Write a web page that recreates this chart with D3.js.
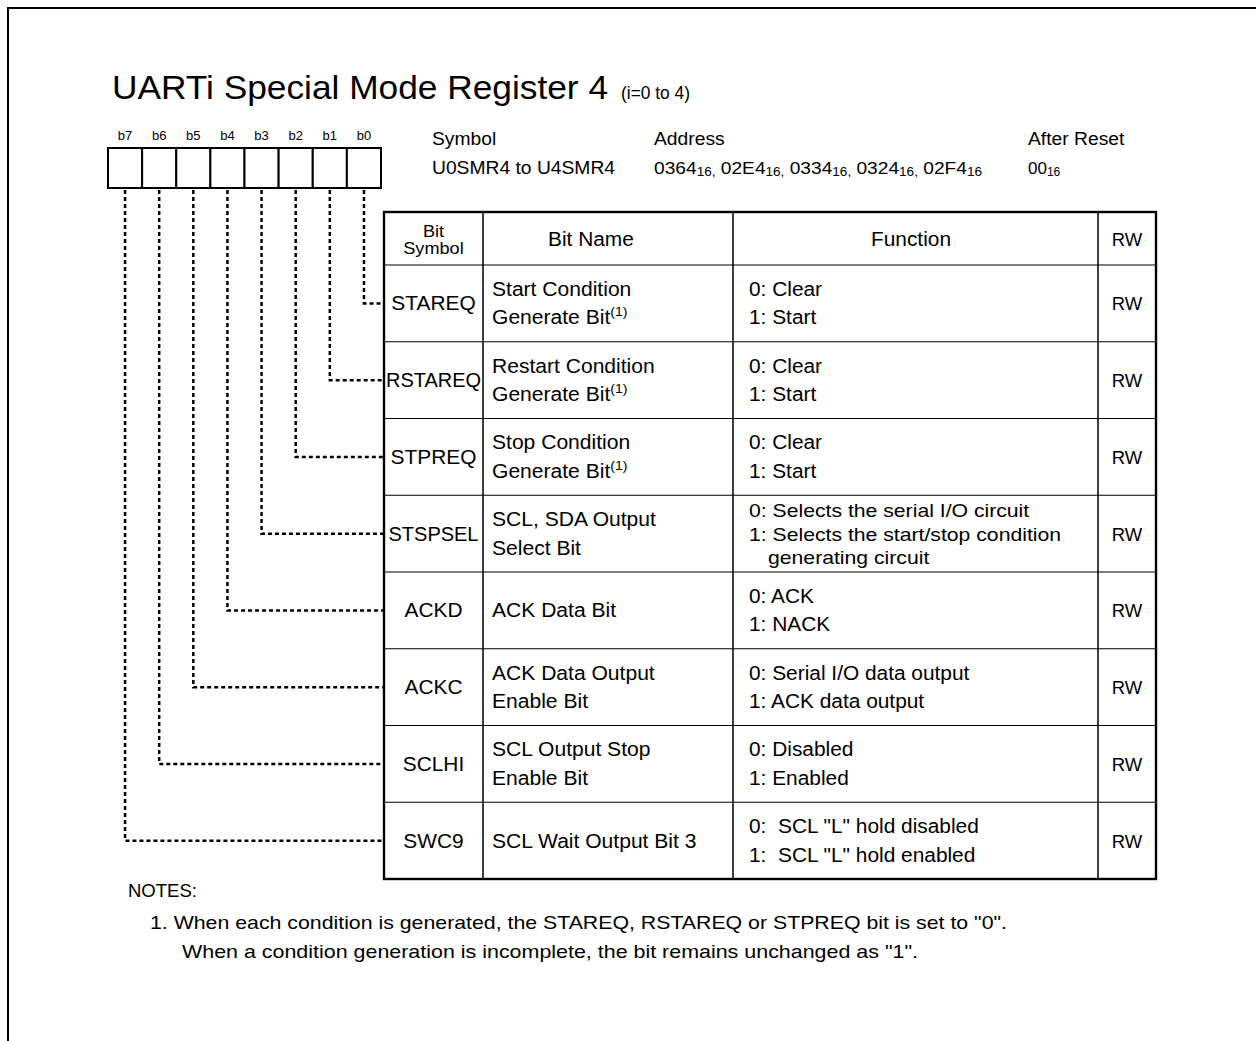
<!DOCTYPE html>
<html><head><meta charset="utf-8">
<script src="https://cdn.jsdelivr.net/npm/d3@7"></script>
<style>
html,body{margin:0;padding:0;background:#fff;}
svg{display:block;font-family:"Liberation Sans",Arial,Helvetica,sans-serif;}
</style></head>
<body><svg id="c" width="1256" height="1041"></svg>
<script>
const bitLabels = ["b7","b6","b5","b4","b3","b2","b1","b0"];
const bitSymbols = ["STAREQ","RSTAREQ","STPREQ","STSPSEL","ACKD","ACKC","SCLHI","SWC9"];
const bitOfRow = ["b0","b1","b2","b3","b4","b5","b6","b7"];
const bitNames = [
  ["Start Condition","Generate Bit|(1)"],
  ["Restart Condition","Generate Bit|(1)"],
  ["Stop Condition","Generate Bit|(1)"],
  ["SCL, SDA Output","Select Bit"],
  ["ACK Data Bit"],
  ["ACK Data Output","Enable Bit"],
  ["SCL Output Stop","Enable Bit"],
  ["SCL Wait Output Bit 3"]
];
const functions = [
  ["0: Clear","1: Start"],
  ["0: Clear","1: Start"],
  ["0: Clear","1: Start"],
  ["0: Selects the serial I/O circuit","1: Selects the start/stop condition","generating circuit"],
  ["0: ACK","1: NACK"],
  ["0: Serial I/O data output","1: ACK data output"],
  ["0: Disabled","1: Enabled"],
  ["0:  SCL \"L\" hold disabled","1:  SCL \"L\" hold enabled"]
];
const rwValues = ["RW","RW","RW","RW","RW","RW","RW","RW"];
const headers = ["Bit Symbol","Bit Name","Function","RW"];
const addresses = ["0364","02E4","0334","0324","02F4"];
const registerSymbol = "U0SMR4 to U4SMR4";
const resetValue = "00";
const noteLines = [
  "1. When each condition is generated, the STAREQ, RSTAREQ or STPREQ bit is set to \"0\".",
  "When a condition generation is incomplete, the bit remains unchanged as \"1\"."
];

const svg = d3.select("#c");
const K = 1.07; // horizontal stretch of the reference typeface
function stretch(sel, k){ sel.each(function(){ const w=this.getComputedTextLength(); d3.select(this).attr("textLength",w*(k||K)).attr("lengthAdjust","spacingAndGlyphs"); }); return sel; }
function fit(sel, w){ sel.attr("textLength",w).attr("lengthAdjust","spacingAndGlyphs"); return sel; }

// outer frame
svg.append("path").attr("d","M8,1041 V8 H1256").attr("fill","none").attr("stroke","#000").attr("stroke-width",2);

// title
svg.append("text").attr("x",112).attr("y",99).attr("font-size",33).text("UARTi Special Mode Register 4").call(fit,496);
svg.append("text").attr("x",621).attr("y",99).attr("font-size",19).text("(i=0 to 4)").call(fit,69);

// bit boxes
const xBit = d3.scaleBand().domain(bitLabels).range([108,381]);
svg.selectAll("text.bl").data(bitLabels).join("text").attr("class","bl")
  .attr("x",d=>xBit(d)+xBit.bandwidth()/2).attr("y",140)
  .attr("text-anchor","middle").attr("font-size",13).text(d=>d);
svg.selectAll("rect.bb").data(bitLabels).join("rect").attr("class","bb")
  .attr("x",d=>xBit(d)).attr("y",148).attr("width",xBit.bandwidth()).attr("height",40)
  .attr("fill","#fff").attr("stroke","#000").attr("stroke-width",2);

// header info
const info = svg.append("g").attr("font-size",18);
info.append("text").attr("x",432).attr("y",145).text("Symbol").call(stretch);
info.append("text").attr("x",654).attr("y",145).text("Address").call(stretch);
info.append("text").attr("x",1028).attr("y",145).text("After Reset").call(stretch);
info.append("text").attr("x",432).attr("y",174).text(registerSymbol).call(stretch);
const at = info.append("text").attr("x",654).attr("y",174);
addresses.forEach((a,i)=>{
  at.append("tspan").attr("font-size",17).attr("dy", i===0?0:-2).text((i===0?"":" ")+a);
  at.append("tspan").attr("font-size",12).attr("dy",2).text(i<addresses.length-1?"16,":"16");
});
fit(at,328);
const rt = info.append("text").attr("x",1028).attr("y",174);
rt.append("tspan").attr("font-size",17).text(resetValue);
rt.append("tspan").attr("font-size",12).attr("dy",2).text("16");

// table
const colX = [384,483,733,1098,1156];
const headTop = 212, headBot = 265, tableBot = 879;
const yRow = d3.scaleBand().domain(bitSymbols).range([headBot,tableBot]);
const tg = svg.append("g");
tg.selectAll("line.r").data(bitSymbols.slice(1)).join("line").attr("class","r")
  .attr("x1",colX[0]).attr("x2",colX[4]).attr("y1",d=>yRow(d)).attr("y2",d=>yRow(d))
  .attr("stroke","#000").attr("stroke-width",1.2);
tg.append("line").attr("x1",colX[0]).attr("x2",colX[4]).attr("y1",headBot).attr("y2",headBot).attr("stroke","#000").attr("stroke-width",1.2);
tg.selectAll("line.c").data(colX.slice(1,4)).join("line").attr("class","c")
  .attr("x1",d=>d).attr("x2",d=>d).attr("y1",headTop).attr("y2",tableBot)
  .attr("stroke","#000").attr("stroke-width",1.5);
tg.append("rect").attr("x",colX[0]).attr("y",headTop).attr("width",colX[4]-colX[0]).attr("height",tableBot-headTop)
  .attr("fill","none").attr("stroke","#000").attr("stroke-width",2.4);

// header text
const hc = i => (colX[i]+colX[i+1])/2;
const hm = (headTop+headBot)/2;
const hw = headers[0].split(" ");
svg.append("text").attr("x",hc(0)).attr("y",hm-2).attr("text-anchor","middle").attr("font-size",16.5).text(hw[0]).call(stretch,1.1);
svg.append("text").attr("x",hc(0)).attr("y",hm+15).attr("text-anchor","middle").attr("font-size",16.5).text(hw[1]).call(stretch,1.1);
svg.append("text").attr("x",548).attr("y",hm+7).attr("font-size",19.5).text(headers[1]).call(stretch);
svg.append("text").attr("x",911).attr("y",hm+7).attr("text-anchor","middle").attr("font-size",19.5).text(headers[2]).call(stretch);
svg.append("text").attr("x",hc(3)).attr("y",hm+7).attr("text-anchor","middle").attr("font-size",18.5).text(headers[3]);

// rows
const FS = 19.5;
bitSymbols.forEach((s,r)=>{
  const cy = yRow(s)+yRow.bandwidth()/2;
  const st = svg.append("text").attr("x",hc(0)).attr("y",cy+7).attr("text-anchor","middle").attr("font-size",FS).text(s);
  if (s.length>6) fit(st, s==="RSTAREQ"?95:90); else stretch(st);
  const nm = bitNames[r];
  nm.forEach((line,k)=>{
    const y = nm.length===1 ? cy+7 : cy-7.5+28.5*k;
    const parts = line.split("|");
    const tx = svg.append("text").attr("x",492).attr("y",y).attr("font-size",FS);
    tx.append("tspan").text(parts[0]);
    if (parts[1]) tx.append("tspan").attr("font-size",13).attr("dy",-8).text(parts[1]);
    stretch(tx, 1.08);
  });
  const fn = functions[r];
  fn.forEach((line,k)=>{
    let y, fs = FS, x = 749, kk = K;
    if (fn.length===3){ y = cy-16.5+23.5*k; fs = 19; kk = 1.115; if (k===2) x = 768; }
    else y = cy-7.5+28.5*k;
    svg.append("text").attr("x",x).attr("y",y).attr("font-size",fs).style("white-space","pre").text(line).call(stretch,kk);
  });
  svg.append("text").attr("x",hc(3)).attr("y",cy+7).attr("text-anchor","middle").attr("font-size",18.5).text(rwValues[r]);

  const bx = xBit(bitOfRow[r])+xBit.bandwidth()/2;
  svg.append("path").attr("d",`M${bx},${190} V${cy} H${colX[0]-1}`)
    .attr("fill","none").attr("stroke","#000").attr("stroke-width",2.5).attr("stroke-dasharray","4,3");
});

// notes
svg.append("text").attr("x",128).attr("y",897).attr("font-size",18.5).text("NOTES:");
svg.append("text").attr("x",150).attr("y",929).attr("font-size",19).text(noteLines[0]).call(fit,857);
svg.append("text").attr("x",182).attr("y",958).attr("font-size",19).text(noteLines[1]).call(fit,736);
</script></body></html>
